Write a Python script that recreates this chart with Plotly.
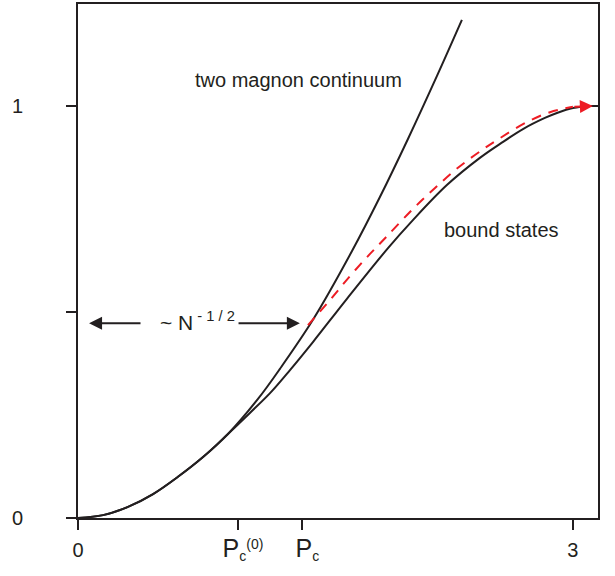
import plotly.graph_objects as go

# ---- data ----
continuum_x = [0, 0.152, 0.303, 0.455, 0.606, 0.758, 0.909, 1.091, 1.224, 1.424, 1.661, 1.830, 2.000, 2.176, 2.327]
continuum_y = [0, 0.007, 0.027, 0.058, 0.100, 0.148, 0.204, 0.289, 0.362, 0.481, 0.648, 0.779, 0.920, 1.073, 1.209]

bound_x = [0, 0.152, 0.303, 0.455, 0.606, 0.758, 0.909, 1.042, 1.164, 1.285, 1.424, 1.630, 1.879, 2.030, 2.236,
           2.436, 2.558, 2.697, 2.830, 2.903, 3.000, 3.103, 3.152]
bound_y = [0, 0.007, 0.027, 0.058, 0.100, 0.148, 0.204, 0.255, 0.303, 0.359, 0.427, 0.532, 0.655, 0.723, 0.808,
           0.874, 0.908, 0.944, 0.971, 0.983, 0.995, 1.000, 1.000]

approx_x = [1.394, 1.527, 1.648, 1.770, 1.873, 2.030, 2.164, 2.303, 2.448, 2.558, 2.721, 2.861, 3.000]
approx_y = [0.468, 0.529, 0.587, 0.641, 0.684, 0.750, 0.801, 0.850, 0.893, 0.922, 0.961, 0.985, 0.998]
approx_tip = (3.121, 1.000)

x_tickvals = [0, 0.97, 1.36, 3]
x_ticktext = ["0",
              "\u2002<span style='font-size:25px'>P</span><sub>c</sub><sup>(0)</sup>",
              "\u2002<span style='font-size:25px'>P</span><sub>c</sub>",
              "3"]
y_tickvals = [0, 0.5, 1]
y_ticktext = ["0", "", "1"]

# N^-1/2 arrow geometry (data units)
n_arrow_y = 0.473
n_left_tail, n_left_tip = 0.388, 0.067
n_right_tail, n_right_tip = 0.964, 1.345
n_label_x = 0.727

label_continuum = ("two magnon continuum", 1.339, 1.063)
label_bound = ("bound states", 2.570, 0.699)

INK = "#231f20"
RED = "#ed1c24"
FONT = "Liberation Sans, Arial, Helvetica, sans-serif"

fig = go.Figure()
fig.add_trace(go.Scatter(x=continuum_x, y=continuum_y, mode="lines",
                         line=dict(color=INK, width=2, shape="spline", smoothing=1.0),
                         showlegend=False, hoverinfo="skip"))
fig.add_trace(go.Scatter(x=bound_x, y=bound_y, mode="lines",
                         line=dict(color=INK, width=2, shape="spline", smoothing=1.0),
                         showlegend=False, hoverinfo="skip"))
fig.add_trace(go.Scatter(x=approx_x, y=approx_y, mode="lines",
                         line=dict(color=RED, width=2, dash="10px,8px", shape="spline", smoothing=1.0),
                         showlegend=False, hoverinfo="skip"))

annotations = [
    # red arrow head at the end of the dashed curve
    dict(x=approx_tip[0], y=approx_tip[1], ax=approx_x[-1], ay=approx_y[-1],
         xref="x", yref="y", axref="x", ayref="y", text="", showarrow=True,
         arrowhead=2, arrowsize=1.3, arrowwidth=2, arrowcolor=RED, standoff=0),
    # N^-1/2 arrows
    dict(x=n_left_tip, y=n_arrow_y, ax=n_left_tail, ay=n_arrow_y,
         xref="x", yref="y", axref="x", ayref="y", text="", showarrow=True,
         arrowhead=2, arrowsize=1.3, arrowwidth=2, arrowcolor=INK, standoff=0),
    dict(x=n_right_tip, y=n_arrow_y, ax=n_right_tail, ay=n_arrow_y,
         xref="x", yref="y", axref="x", ayref="y", text="", showarrow=True,
         arrowhead=2, arrowsize=1.3, arrowwidth=2, arrowcolor=INK, standoff=0),
    dict(x=n_label_x, y=n_arrow_y, xref="x", yref="y", showarrow=False,
         text="~ N<sup> - 1 / 2</sup>", font=dict(size=21, color=INK, family=FONT),
         xanchor="center", yanchor="middle", yshift=2),
    dict(x=label_continuum[1], y=label_continuum[2], xref="x", yref="y", showarrow=False,
         text=label_continuum[0], font=dict(size=20, color=INK, family=FONT),
         xanchor="center", yanchor="middle"),
    dict(x=label_bound[1], y=label_bound[2], xref="x", yref="y", showarrow=False,
         text=label_bound[0], font=dict(size=20, color=INK, family=FONT),
         xanchor="center", yanchor="middle"),
]

fig.update_layout(
    width=615, height=576,
    margin=dict(l=78, r=17, t=4, b=58, autoexpand=False),
    paper_bgcolor="white", plot_bgcolor="white",
    font=dict(family=FONT, color=INK, size=20),
    annotations=annotations,
    xaxis=dict(range=[0, 3.152], showgrid=False, zeroline=False, automargin=False,
               showline=True, linecolor=INK, linewidth=2, mirror=True,
               ticks="outside", ticklen=10, tickwidth=2, tickcolor=INK,
               tickmode="array", tickvals=x_tickvals, ticktext=x_ticktext,
               tickfont=dict(size=20, color=INK, family=FONT),
               ticklabelstandoff=3),
    yaxis=dict(range=[0, 1.2476], showgrid=False, zeroline=False, automargin=False,
               showline=True, linecolor=INK, linewidth=2, mirror=True,
               ticks="outside", ticklen=10, tickwidth=2, tickcolor=INK,
               tickmode="array", tickvals=y_tickvals, ticktext=y_ticktext,
               tickfont=dict(size=20, color=INK, family=FONT),
               ticklabelstandoff=39),
)

fig.write_html("out.html", config={"displayModeBar": False},
               post_script="document.body.style.margin='0';document.body.style.overflow='hidden';")
